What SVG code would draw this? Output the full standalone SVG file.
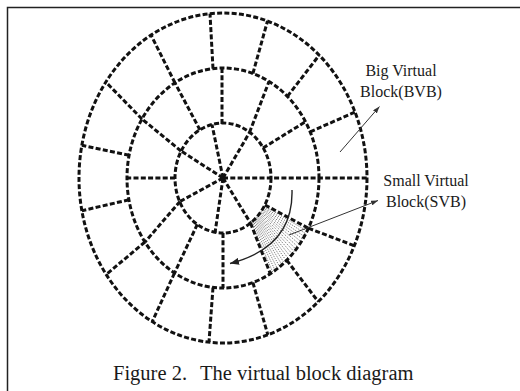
<svg xmlns="http://www.w3.org/2000/svg" width="520" height="391" viewBox="0 0 520 391">
  <defs>
    <style>
      .d{fill:none;stroke:#111;stroke-width:3;stroke-dasharray:5 2.3;}
      .dot{fill:none;stroke:#666;stroke-width:0.9;stroke-dasharray:1.2 1.2;}
      .lbl{font-family:"Liberation Serif","Times New Roman",serif;font-size:16px;fill:#1a1a1a;text-anchor:middle;}
      .cap{font-family:"Liberation Serif","Times New Roman",serif;font-size:20.5px;fill:#1a1a1a;}
    </style>
    <marker id="ah" markerUnits="userSpaceOnUse" markerWidth="9" markerHeight="7" refX="9" refY="3.5" orient="auto">
      <path d="M0,0 L9,3.5 L0,7 z" fill="#222"/>
    </marker>
    <marker id="ahs" markerUnits="userSpaceOnUse" markerWidth="7" markerHeight="5" refX="7" refY="2.5" orient="auto">
      <path d="M0,0 L7,2.5 L0,5 z" fill="#333"/>
    </marker>
  </defs>
  <rect width="520" height="391" fill="#fff"/>
  <g id="frame" stroke="#222" stroke-width="1.5" fill="none">
    <path d="M7.5,391 V7.5 H520"/>
  </g>

  <g id="svb-shading">
    <path class="dot" d="M264.4,206 L307.1,231 M263.8,207 L305.8,233.7 M263.2,208 L304.3,236.5 M262.6,209.1 L302.8,239.2 M262,210.1 L301.2,241.8 M261.3,211.1 L299.5,244.4 M260.7,212 L297.8,246.9 M260,213 L296.1,249.4 M259.3,214 L294.2,251.8 M258.6,214.9 L292.3,254.1 M257.9,215.8 L290.3,256.4 M257.1,216.7 L288.3,258.6 M256.4,217.5 L286.2,260.7 M255.6,218.4 L284.1,262.8 M254.8,219.2 L281.9,264.8 M254,220 L279.7,266.8 M253.2,220.8 L277.4,268.6 M252.3,221.6 L275.1,270.4 M251.4,222.3 L272.7,272.1"/>
  </g>

  <g id="rings">
    <ellipse class="d" cx="223" cy="178" rx="48" ry="55"/>
    <ellipse class="d" cx="223" cy="178" rx="96" ry="110"/>
    <ellipse class="d" cx="223" cy="178" rx="144" ry="165"/>
  </g>

  <g id="spokes">
    <path class="d" d="M223,178 L212,124.5 M223,178 L249.5,132.5 M223,178 L367,178 M223,178 L250.5,223 M223,178 L215,233 M223,178 L180,201.5 M223,178 L181,151"/>
    <path class="d" d="M222,124 L222,68 M249.5,132.5 L269,81.5 M263,148 L305.5,121.7 M265,205 L308.4,228.2 M250.5,223 L270.3,273.7 M223,233 L223,288 M197.3,224.4 L174.5,273 M180,201.5 L145,242 M175,178 L127,178 M181,151 L142,119 M200,130 L175,83"/>
    <path class="d" d="M213,68.6 L210,13.7 M252.9,73.5 L267.5,21 M287.4,96.4 L319.2,55.2 M310.2,131.9 L355,112 M308.4,228.2 L354.3,245.7 M286.7,260.2 L318.3,301.7 M252.9,282.5 L267.8,334.8 M213,287.5 L209,342 M174.5,273 L152.2,321.8 M145,242 L106.1,274.6 M128.9,199.8 L81.9,210.7 M129.1,155.3 L81.9,145.3 M142,119 L106,82.2 M175,83 L151.1,35.2"/>
  </g>

  <g id="connectors">
    <path d="M292,190 C293,225 275,252 230,263.5" fill="none" stroke="#222" stroke-width="1.4" marker-end="url(#ah)"/>
    <line x1="340" y1="152" x2="379.5" y2="106.5" stroke="#333" stroke-width="1" marker-end="url(#ahs)"/>
    <line x1="289" y1="235" x2="378" y2="200.5" stroke="#333" stroke-width="1" marker-end="url(#ahs)"/>
  </g>

  <g id="label-bvb">
    <text class="lbl" x="401" y="76">Big Virtual</text>
    <text class="lbl" x="401" y="97">Block(BVB)</text>
  </g>
  <g id="label-svb">
    <text class="lbl" x="426" y="186">Small Virtual</text>
    <text class="lbl" x="426" y="207">Block(SVB)</text>
  </g>
  <g id="caption">
    <text class="cap" y="380"><tspan x="113">Figure 2.</tspan><tspan x="200">The virtual block diagram</tspan></text>
  </g>
</svg>
